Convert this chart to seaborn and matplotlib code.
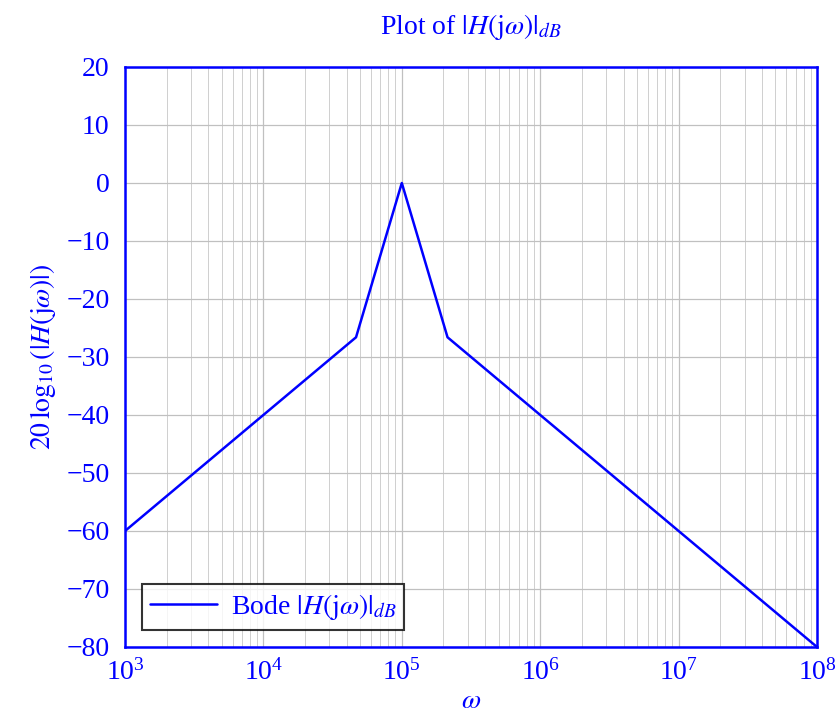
import matplotlib
matplotlib.use('Agg')
import seaborn as sns
import pandas as pd
import matplotlib.pyplot as plt

# data (corner points of the asymptotic Bode plot)
omega = [1e3, 4.67e4, 1e5, 2.14e5, 1e8]
gainDb = [-60, -26.6, 0, -26.6, -80]

yTicks = [20, 10, 0, -10, -20, -30, -40, -50, -60, -70, -80]
xTicks = [1e3, 1e4, 1e5, 1e6, 1e7, 1e8]

blue = '#0000ff'

sns.set_style('white')
plt.rcParams['font.family'] = ['Liberation Serif', 'DejaVu Serif']
plt.rcParams['mathtext.fontset'] = 'stix'
fs = 20

df = pd.DataFrame({'omega': omega, 'gain': gainDb})

fig = plt.figure(figsize=(8.38, 7.17), dpi=100)
ax = fig.add_axes([125 / 838, 1 - 647 / 717, 692 / 838, 580 / 717])

sns.lineplot(data=df, x='omega', y='gain', color=blue, linewidth=1.8, ax=ax,
             label=r'Bode $|H(\mathrm{j}\omega)|_{dB}$', sort=False)

ax.set_xscale('log')
ax.set_xlim(1e3, 1e8)
ax.set_ylim(-80, 20)
ax.set_xticks(xTicks)
ax.set_yticks(yTicks)
ax.set_yticklabels([str(t).replace('-', '\u2212') for t in yTicks])

# grid
ax.grid(True, which='major', color='#c0c0c0', linewidth=0.9)
ax.grid(True, which='minor', axis='x', color='#c8c8c8', linewidth=0.6)
ax.set_axisbelow(True)

ax.tick_params(axis='both', which='both', direction='in', colors='#808080',
               labelcolor=blue, labelsize=fs)
ax.tick_params(which='major', length=5)
ax.tick_params(which='minor', length=3)
ax.tick_params(axis='x', which='major', pad=9)
ax.tick_params(axis='y', which='major', pad=11)

for sp in ax.spines.values():
    sp.set_color(blue)
    sp.set_linewidth(1.8)

ax.set_title(r'Plot of $|H(\mathrm{j}\omega)|_{dB}$', color=blue, fontsize=fs, pad=24)
ax.set_xlabel(r'$\omega$', color=blue, fontsize=fs, labelpad=2)
ax.set_ylabel(r'$20\,\log_{10}(|H(\mathrm{j}\omega)|)$', color=blue, fontsize=fs, labelpad=6)

leg = ax.legend(loc='lower left', fontsize=fs, frameon=True, fancybox=False,
                borderaxespad=0.6, handlelength=2.4, handletextpad=0.5, borderpad=0.3)
leg.get_frame().set_edgecolor('black')
leg.get_frame().set_linewidth(1.5)
for t in leg.get_texts():
    t.set_color(blue)

fig.savefig('out.png', dpi=100)
